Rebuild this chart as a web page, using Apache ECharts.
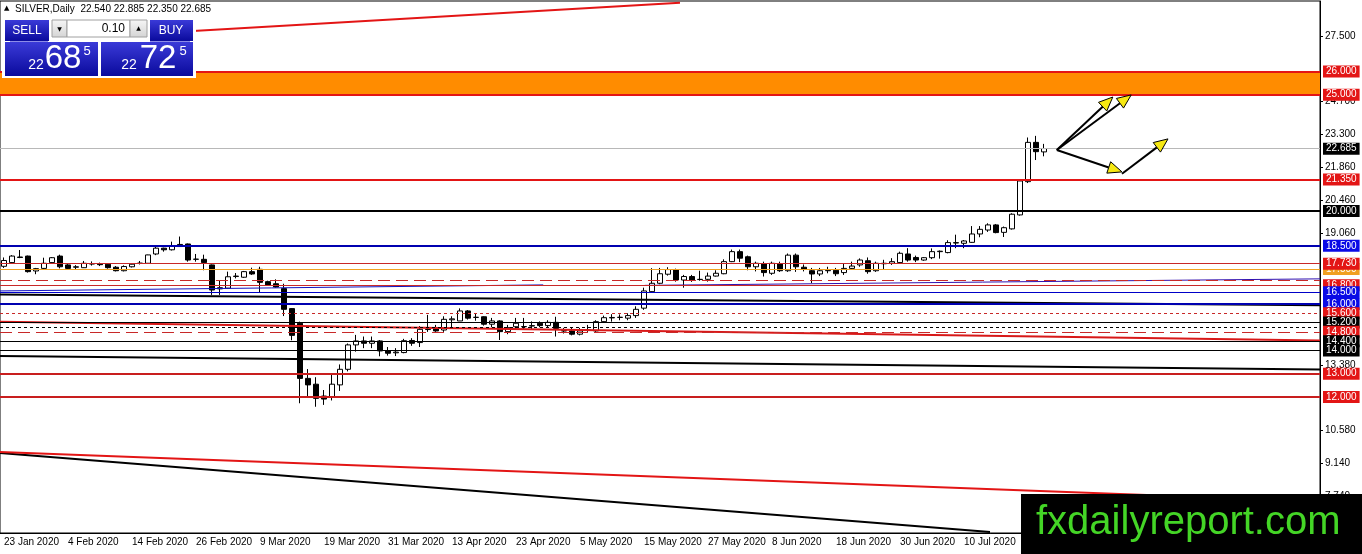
<!DOCTYPE html>
<html><head><meta charset="utf-8">
<script src="https://cdn.jsdelivr.net/npm/echarts@6/dist/echarts.min.js"></script>
<style>html,body{margin:0;padding:0;background:#fff}#c{width:1362px;height:554px}</style>
</head><body><div id="c"></div>
<script>
// ---- data ----
const dates = ['23 Jan 2020','24 Jan 2020','27 Jan 2020','28 Jan 2020','29 Jan 2020','30 Jan 2020','31 Jan 2020',
'3 Feb 2020','4 Feb 2020','5 Feb 2020','6 Feb 2020','7 Feb 2020','10 Feb 2020','11 Feb 2020','12 Feb 2020','13 Feb 2020','14 Feb 2020','17 Feb 2020','18 Feb 2020','19 Feb 2020','20 Feb 2020','21 Feb 2020','24 Feb 2020','25 Feb 2020','26 Feb 2020','27 Feb 2020','28 Feb 2020',
'2 Mar 2020','3 Mar 2020','4 Mar 2020','5 Mar 2020','6 Mar 2020','9 Mar 2020','10 Mar 2020','11 Mar 2020','12 Mar 2020','13 Mar 2020','16 Mar 2020','17 Mar 2020','18 Mar 2020','19 Mar 2020','20 Mar 2020','23 Mar 2020','24 Mar 2020','25 Mar 2020','26 Mar 2020','27 Mar 2020','30 Mar 2020','31 Mar 2020',
'1 Apr 2020','2 Apr 2020','3 Apr 2020','6 Apr 2020','7 Apr 2020','8 Apr 2020','9 Apr 2020','13 Apr 2020','14 Apr 2020','15 Apr 2020','16 Apr 2020','17 Apr 2020','20 Apr 2020','21 Apr 2020','22 Apr 2020','23 Apr 2020','24 Apr 2020','27 Apr 2020','28 Apr 2020','29 Apr 2020','30 Apr 2020',
'1 May 2020','4 May 2020','5 May 2020','6 May 2020','7 May 2020','8 May 2020','11 May 2020','12 May 2020','13 May 2020','14 May 2020','15 May 2020','18 May 2020','19 May 2020','20 May 2020','21 May 2020','22 May 2020','25 May 2020','26 May 2020','27 May 2020','28 May 2020','29 May 2020',
'1 Jun 2020','2 Jun 2020','3 Jun 2020','4 Jun 2020','5 Jun 2020','8 Jun 2020','9 Jun 2020','10 Jun 2020','11 Jun 2020','12 Jun 2020','15 Jun 2020','16 Jun 2020','17 Jun 2020','18 Jun 2020','19 Jun 2020','22 Jun 2020','23 Jun 2020','24 Jun 2020','25 Jun 2020','26 Jun 2020','29 Jun 2020','30 Jun 2020',
'1 Jul 2020','2 Jul 2020','3 Jul 2020','6 Jul 2020','7 Jul 2020','8 Jul 2020','9 Jul 2020','10 Jul 2020','13 Jul 2020','14 Jul 2020','15 Jul 2020','16 Jul 2020','17 Jul 2020','20 Jul 2020','21 Jul 2020','22 Jul 2020','23 Jul 2020','24 Jul 2020'];

const openP = [17.62,17.78,18.02,18.06,17.42,17.53,17.78,18.06,17.68,17.58, 17.56,17.72,17.72,17.71,17.58,17.43,17.60,17.74,17.75,18.15,
18.40,18.33,18.56,18.58,17.92,17.92,17.68,16.65,16.68,17.18, 17.15,17.39,17.49,16.96,16.87,16.66,15.80,15.17,12.80,12.55,
12.04,12.02,12.52,13.19,14.24,14.41,14.31,14.41,13.98,13.90, 13.91,14.43,14.34,14.90,14.95,14.88,15.32,15.27,15.70,15.42,
15.45,15.13,15.27,14.81,15.02,15.02,15.05,15.17,15.07,15.21, 14.85,14.84,14.70,14.87,14.84,15.24,15.40,15.42,15.39,15.50,
15.82,16.53,16.89,17.28,17.46,17.03,17.18,17.05,17.06,17.20, 17.30,17.82,18.25,18.03,17.60,17.72,17.32,17.72,17.43,18.10,
17.58,17.43,17.29,17.43,17.45,17.35,17.53,17.68,17.86,17.43, 17.73,17.75,17.78,18.15,18.00,17.89,17.99,18.25,18.21,18.62,
18.61,18.65,19.01,19.18,19.40,19.08,19.23,19.83,21.26,22.95, 22.54];
const highP = [18.00,18.10,18.32,18.08,17.55,17.99,18.02,18.12,17.72,17.67, 17.85,17.83,17.78,17.76,17.63,17.66,17.76,17.85,18.12,18.45,
18.42,18.68,18.90,18.60,18.15,18.12,17.70,17.03,17.39,17.33, 17.42,17.56,17.60,17.00,17.06,16.87,15.82,15.24,13.20,12.85,
12.30,12.97,13.40,14.30,14.67,14.60,14.60,14.45,14.15,14.10, 14.50,14.53,15.05,15.53,15.10,15.47,15.47,15.81,15.74,15.60,
15.47,15.40,15.30,15.10,15.40,15.40,15.25,15.25,15.30,15.45, 14.97,14.97,14.97,15.10,15.30,15.50,15.56,15.55,15.60,15.90,
16.70,17.54,17.55,17.58,17.52,17.25,17.25,17.43,17.35,17.45, 17.92,18.34,18.34,18.08,17.82,17.82,17.82,17.82,18.17,18.17,
17.70,17.55,17.55,17.60,17.55,17.75,17.82,17.96,18.00,17.82, 17.90,17.97,18.25,18.40,18.08,18.02,18.39,18.30,18.74,18.98,
18.75,19.35,19.35,19.47,19.44,19.33,19.90,21.37,23.16,23.23, 22.885];
const lowP = [17.55,17.75,17.97,17.35,17.28,17.50,17.75,17.53,17.50,17.49, 17.55,17.65,17.63,17.52,17.40,17.40,17.57,17.70,17.72,18.10,
18.25,18.30,18.45,17.82,17.82,17.45,16.39,16.39,16.65,17.10, 17.12,17.25,16.49,16.80,16.70,15.48,14.44,11.73,12.01,11.58,
11.66,11.85,12.26,13.10,13.95,14.10,14.10,13.75,13.78,13.76, 13.88,14.20,14.15,14.80,14.80,14.80,15.00,15.27,15.33,15.28,
15.07,15.00,14.45,14.70,14.93,14.92,14.92,15.00,14.98,14.60, 14.73,14.65,14.65,14.80,14.80,15.20,15.24,15.30,15.30,15.40,
15.75,16.50,16.85,17.22,16.96,16.70,16.95,17.00,16.96,17.18, 17.28,17.80,17.80,17.45,17.40,17.18,17.25,17.38,17.38,17.38,
17.40,16.90,17.20,17.32,17.20,17.25,17.50,17.60,17.30,17.38, 17.50,17.68,17.75,17.82,17.80,17.86,17.93,17.95,18.18,18.40,
18.40,18.63,18.87,19.10,19.04,18.88,19.20,19.80,21.20,22.19, 22.35];
const closeP = [17.87,18.06,18.00,17.39,17.52,17.75,17.99,17.60,17.53,17.60, 17.75,17.73,17.69,17.56,17.43,17.61,17.71,17.76,18.11,18.40,
18.33,18.50,18.47,17.89,17.93,17.78,16.60,16.70,17.17,17.20, 17.39,17.29,16.93,16.82,16.73,15.77,14.65,12.80,12.52,11.94,
11.91,12.55,13.19,14.24,14.41,14.31,14.41,13.98,13.88,13.93, 14.42,14.31,14.91,14.92,14.84,15.34,15.36,15.70,15.39,15.43,
15.13,15.27,14.81,14.98,15.17,15.03,15.07,15.07,15.21,14.95, 14.84,14.70,14.84,14.88,15.24,15.41,15.42,15.43,15.50,15.77,
16.56,16.89,17.30,17.48,17.03,17.18,17.03,17.06,17.20,17.32, 17.82,18.25,17.97,17.60,17.75,17.35,17.75,17.43,18.10,17.60,
17.50,17.29,17.43,17.45,17.30,17.53,17.63,17.89,17.39,17.75, 17.75,17.82,18.18,17.89,17.89,17.99,18.25,18.27,18.64,18.64,
18.71,19.01,19.21,19.40,19.07,19.28,19.86,21.29,22.95,22.55, 22.685];

const yTickValues = [7.74, 9.14, 10.58, 13.38, 19.06, 20.46, 21.86, 23.3, 24.7, 27.5];
const levelPrices = [26.0, 25.0, 22.685, 21.35, 20.0, 18.5, 17.5, 17.73, 17.0, 16.8, 16.5, 16.0, 15.6, 15.2, 15.0, 14.8, 14.4, 14.0, 13.0, 12.0];
const zonePrices = [25.0, 26.0];
// trend lines: [barIndexStart, priceStart, barIndexEnd, priceEnd]
const trendLines = [
  [15, 27.57, 84.5, 28.95],
  [-0.5, 9.59, 123.25, 6.19],
  [-0.5, 9.63, 164.5, 7.50],
  [-0.5, 15.23, 164.5, 14.43],
  [-0.5, 13.76, 164.5, 13.18],
  [-0.5, 16.41, 164.5, 15.94],
  [-0.5, 16.56, 67.4, 16.82],
  [80.1, 16.80, 164.5, 17.08]
];
const arrowLines = [
  [131.6, 22.62, 138.6, 24.90],
  [131.6, 22.62, 140.9, 24.99],
  [131.6, 22.62, 139.75, 21.68],
  [139.75, 21.60, 145.5, 23.10]
];
const headerText = 'SILVER,Daily  22.540 22.885 22.350 22.685';
const lotText = '0.10';
const sellQuote = ['22', '68', '5'];
const buyQuote = ['22', '72', '5'];
const watermarkText = 'fxdailyreport.com';

// ---- styles ----
const RED = '#E31515', DRED = '#C82828', BLACK = '#000', BLUE = '#0A0AE6', NAVY = '#0000B0';
const levelLook = [
  {c: RED, w: 2, t: 'solid', bg: RED},
  {c: RED, w: 2, t: 'solid', bg: RED},
  {c: '#B8B8B8', w: 1, t: 'solid', bg: BLACK},
  {c: RED, w: 2, t: 'solid', bg: RED},
  {c: BLACK, w: 2, t: 'solid', bg: BLACK},
  {c: NAVY, w: 2, t: 'solid', bg: BLUE},
  {c: '#F0A020', w: 1, t: 'solid', bg: '#F0A020'},
  {c: DRED, w: 1, t: 'solid', bg: RED},
  {c: DRED, w: 1, t: [12, 6], bg: null},
  {c: DRED, w: 1, t: 'solid', bg: RED},
  {c: '#0000C8', w: 1, t: 'solid', bg: BLUE},
  {c: NAVY, w: 2, t: 'solid', bg: BLUE},
  {c: DRED, w: 1, t: [3, 3], bg: RED},
  {c: BLACK, w: 1, t: 'solid', bg: BLACK},
  {c: BLACK, w: 1, t: [3, 3], bg: null},
  {c: DRED, w: 1, t: [12, 6], bg: RED},
  {c: BLACK, w: 1, t: 'solid', bg: BLACK},
  {c: BLACK, w: 1, t: 'solid', bg: BLACK},
  {c: '#C81E1E', w: 2, t: 'solid', bg: RED},
  {c: '#C81E1E', w: 2, t: 'solid', bg: RED}
];
const trendLook = [
  {c: RED, w: 2}, {c: BLACK, w: 2}, {c: RED, w: 2}, {c: '#D81818', w: 2},
  {c: BLACK, w: 2}, {c: BLACK, w: 2}, {c: '#1010C0', w: 1}, {c: '#3010B0', w: 1}
];
const FONT = '"Liberation Sans", Arial, sans-serif';
const NBARS = 165;

const categories = dates.concat(Array.from({length: NBARS - dates.length}, (_, i) => 'pad' + i));
const candles = dates.map((d, i) => [openP[i], closeP[i], lowP[i], highP[i]]);

const blueGrad = {type: 'linear', x: 0, y: 0, x2: 0, y2: 1,
  colorStops: [{offset: 0, color: '#3a3ad8'}, {offset: 1, color: '#0a0a9c'}]};
const greyGrad = {type: 'linear', x: 0, y: 0, x2: 0, y2: 1,
  colorStops: [{offset: 0, color: '#f6f6f6'}, {offset: 1, color: '#d4d4d4'}]};

const chart = echarts.init(document.getElementById('c'), null, {renderer: 'canvas'});
chart.setOption({
  animation: false,
  backgroundColor: '#fff',
  grid: {left: 0, right: 42, top: 1, bottom: 21, show: true, borderColor: '#000', borderWidth: 1},
  xAxis: [{
    type: 'category', data: categories, boundaryGap: true,
    axisLine: {onZero: false, lineStyle: {color: '#000', width: 1}},
    axisTick: {interval: 7, length: 3, alignWithLabel: true, lineStyle: {color: '#000'}},
    axisLabel: {interval: 7, align: 'left', margin: 4, fontSize: 10, fontFamily: FONT, color: '#000',
      formatter: (v, i) => (i < dates.length ? v : '')},
    splitLine: {show: false}
  }, {
    type: 'value', min: -0.5, max: NBARS - 0.5, show: false,
    axisLine: {show: false, onZero: false}, axisTick: {show: false}, axisLabel: {show: false}, splitLine: {show: false}
  }],
  yAxis: {
    type: 'value', position: 'right', min: 6.15, max: 29.03, scale: true,
    axisLine: {show: true, onZero: false, lineStyle: {color: '#000'}},
    axisTick: {show: true, length: 3, customValues: yTickValues, lineStyle: {color: '#000'}},
    axisLabel: {show: true, customValues: yTickValues, margin: 5, fontSize: 10, fontFamily: FONT, color: '#000',
      formatter: v => Number(v).toFixed(3)},
    splitLine: {show: false}
  },
  series: [{
    type: 'candlestick', xAxisIndex: 0, yAxisIndex: 0, data: candles, barWidth: 5,
    itemStyle: {color: '#fff', color0: '#000', borderColor: '#000', borderColor0: '#000', borderWidth: 1},
    markArea: {silent: true, itemStyle: {color: '#FF8C00', opacity: 1},
      data: [[{yAxis: zonePrices[0]}, {yAxis: zonePrices[1]}]]},
    markLine: {silent: true, symbol: ['none', 'none'], animation: false,
      data: levelPrices.map((v, i) => ({
        yAxis: v,
        lineStyle: {color: levelLook[i].c, width: levelLook[i].w, type: levelLook[i].t},
        label: {show: !!levelLook[i].bg, position: 'end', distance: 3,
          formatter: () => v.toFixed(3), backgroundColor: levelLook[i].bg || 'transparent',
          color: '#fff', fontSize: 10, fontFamily: FONT, padding: [1, 3, 1, 3], lineHeight: 10}
      }))}
  }, {
    type: 'custom', xAxisIndex: 1, yAxisIndex: 0, data: trendLines, encode: {x: [0, 2], y: [1, 3]},
    silent: true, z: 3,
    renderItem: (params, api) => {
      const a = api.coord([api.value(0), api.value(1)]);
      const b = api.coord([api.value(2), api.value(3)]);
      const s = trendLook[params.dataIndex];
      return {type: 'line', shape: {x1: a[0], y1: a[1], x2: b[0], y2: b[1]}, style: {stroke: s.c, lineWidth: s.w}};
    }
  }, {
    type: 'custom', xAxisIndex: 1, yAxisIndex: 0, data: arrowLines, encode: {x: [0, 2], y: [1, 3]},
    silent: true, z: 6,
    renderItem: (params, api) => {
      const a = api.coord([api.value(0), api.value(1)]);
      const b = api.coord([api.value(2), api.value(3)]);
      const dx = b[0] - a[0], dy = b[1] - a[1];
      const len = Math.sqrt(dx * dx + dy * dy);
      const ux = dx / len, uy = dy / len;
      const L = 14, W = 6;
      const bx = b[0] - ux * L, by = b[1] - uy * L;
      return {type: 'group', children: [
        {type: 'line', shape: {x1: a[0], y1: a[1], x2: bx, y2: by}, style: {stroke: '#000', lineWidth: 2}},
        {type: 'polygon', shape: {points: [[b[0], b[1]], [bx - uy * W, by + ux * W], [bx + uy * W, by - ux * W]]},
          style: {fill: '#F6E812', stroke: '#000', lineWidth: 1}}
      ]};
    }
  }],
  graphic: [
    // header
    {type: 'text', x: 4, y: 5, z: 100, style: {text: '▲', fill: '#000', font: '7px "DejaVu Sans"'}},
    {type: 'text', x: 15, y: 4, z: 100, style: {text: headerText, fill: '#000', font: '10px ' + FONT}},
    // trade panel
    {type: 'rect', z: 100, shape: {x: 2, y: 16, width: 194, height: 62}, style: {fill: '#fff'}},
    {type: 'rect', z: 101, shape: {x: 5, y: 20, width: 44, height: 21}, style: {fill: blueGrad}},
    {type: 'text', z: 102, x: 27, y: 31, style: {text: 'SELL', fill: '#fff', font: '12px ' + FONT, align: 'center', verticalAlign: 'middle'}},
    {type: 'rect', z: 101, shape: {x: 52, y: 20, width: 15, height: 17}, style: {fill: greyGrad, stroke: '#a0a0a0', lineWidth: 1}},
    {type: 'text', z: 102, x: 59.5, y: 29, style: {text: '▼', fill: '#000', font: '6px "DejaVu Sans"', align: 'center', verticalAlign: 'middle'}},
    {type: 'rect', z: 101, shape: {x: 67, y: 20, width: 63, height: 17}, style: {fill: '#fff', stroke: '#a0a0a0', lineWidth: 1}},
    {type: 'text', z: 102, x: 125, y: 29, style: {text: lotText, fill: '#000', font: '12px ' + FONT, align: 'right', verticalAlign: 'middle'}},
    {type: 'rect', z: 101, shape: {x: 130, y: 20, width: 17, height: 17}, style: {fill: greyGrad, stroke: '#a0a0a0', lineWidth: 1}},
    {type: 'text', z: 102, x: 138.5, y: 28, style: {text: '▲', fill: '#000', font: '6px "DejaVu Sans"', align: 'center', verticalAlign: 'middle'}},
    {type: 'rect', z: 101, shape: {x: 150, y: 20, width: 43, height: 21}, style: {fill: blueGrad}},
    {type: 'text', z: 102, x: 171, y: 31, style: {text: 'BUY', fill: '#fff', font: '12px ' + FONT, align: 'center', verticalAlign: 'middle'}},
    {type: 'rect', z: 101, shape: {x: 5, y: 42, width: 93, height: 34}, style: {fill: blueGrad}},
    {type: 'rect', z: 101, shape: {x: 101, y: 42, width: 92, height: 34}, style: {fill: blueGrad}},
    {type: 'line', z: 102, shape: {x1: 10, y1: 41.5, x2: 48, y2: 41.5}, style: {stroke: '#8c8ce8', lineWidth: 1}},
    {type: 'line', z: 102, shape: {x1: 150, y1: 41.5, x2: 190, y2: 41.5}, style: {stroke: '#8c8ce8', lineWidth: 1}},
    {type: 'text', z: 102, x: 36, y: 72, style: {text: sellQuote[0], fill: '#fff', font: '14px ' + FONT, align: 'center', verticalAlign: 'bottom'}},
    {type: 'text', z: 102, x: 63, y: 75, style: {text: sellQuote[1], fill: '#fff', font: '33px ' + FONT, align: 'center', verticalAlign: 'bottom'}},
    {type: 'text', z: 102, x: 87, y: 45, style: {text: sellQuote[2], fill: '#fff', font: '13px ' + FONT, align: 'center', verticalAlign: 'top'}},
    {type: 'text', z: 102, x: 129, y: 72, style: {text: buyQuote[0], fill: '#fff', font: '14px ' + FONT, align: 'center', verticalAlign: 'bottom'}},
    {type: 'text', z: 102, x: 158, y: 75, style: {text: buyQuote[1], fill: '#fff', font: '33px ' + FONT, align: 'center', verticalAlign: 'bottom'}},
    {type: 'text', z: 102, x: 183, y: 45, style: {text: buyQuote[2], fill: '#fff', font: '13px ' + FONT, align: 'center', verticalAlign: 'top'}},
    // watermark
    {type: 'rect', z: 100, shape: {x: 1021, y: 494, width: 341, height: 60}, style: {fill: '#000'}},
    {type: 'text', z: 101, x: 1036, y: 523, style: {text: watermarkText, fill: '#44D526', font: '40px ' + FONT, verticalAlign: 'middle'}}
  ]
});
</script>
</body></html>
